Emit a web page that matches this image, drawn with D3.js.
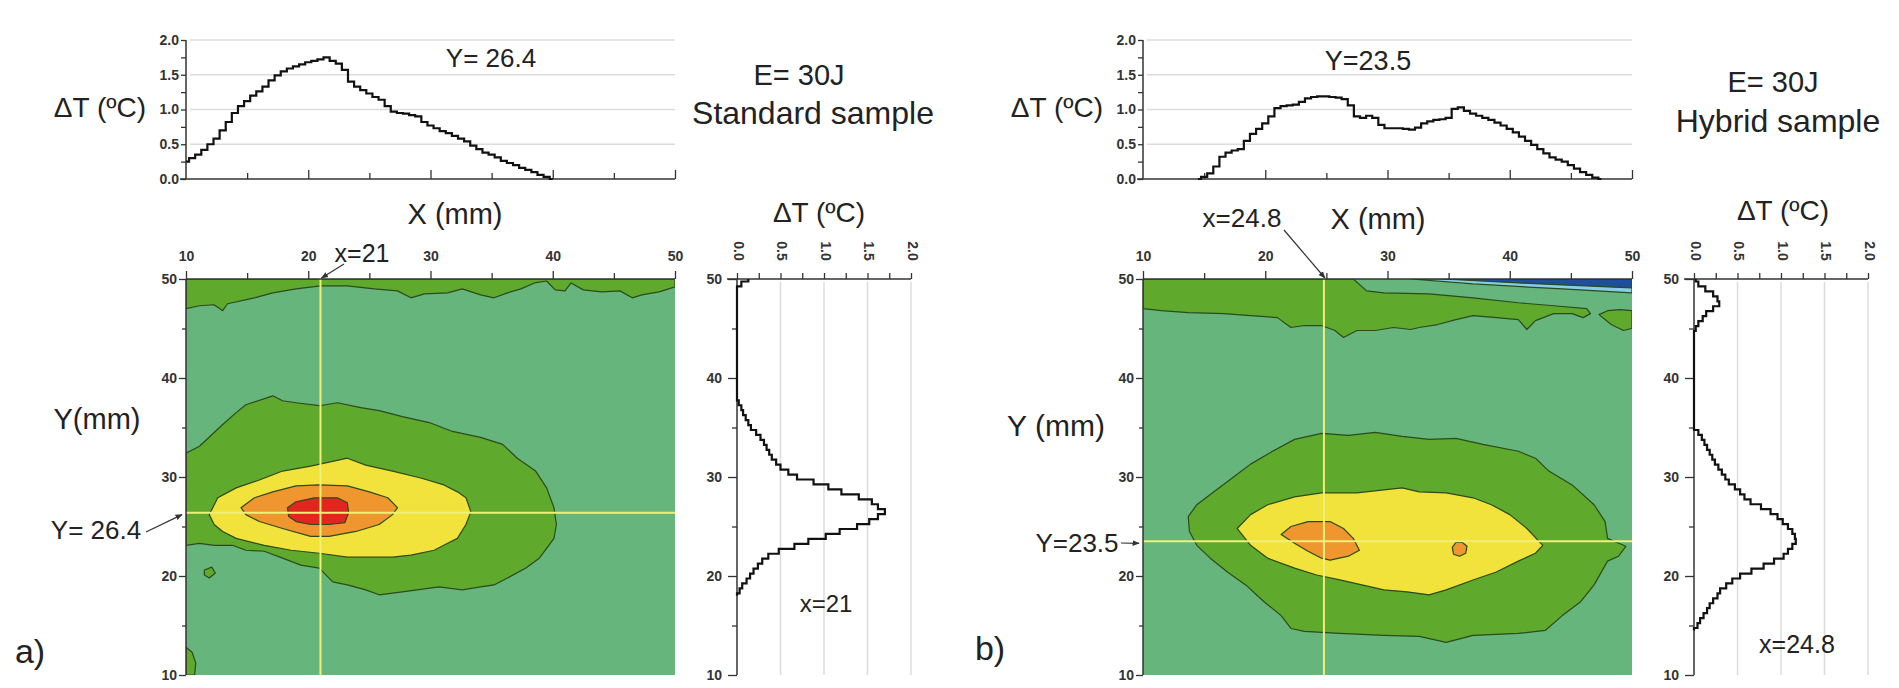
<!DOCTYPE html>
<html>
<head>
<meta charset="utf-8">
<script src="https://cdn.jsdelivr.net/npm/d3@7"></script>
<style>
  body { margin: 0; background: #fff; }
  svg text { font-family: "Liberation Sans", Arial, sans-serif; fill: #222; }
  .tk text { font-family: "Liberation Sans", Arial, sans-serif; font-weight: bold; font-size: 14px; fill: #333; }
  .tk path, .tk line { stroke: #333; stroke-width: 1.3; }
</style>
</head>
<body>
<svg id="chart" width="1899" height="688"></svg>
<script>
// ---------- data (mm / degC) ----------
// horizontal profiles, [x mm, dT]
const topA = [[10,0.25],[10.5,0.30],[11,0.35],[11.5,0.42],[12,0.50],[12.5,0.58],[13,0.70],[13.5,0.82],[14,0.95],[14.5,1.05],[15,1.12],[15.5,1.20],[16,1.26],[16.5,1.33],[17,1.42],[17.5,1.49],[18,1.55],[18.5,1.59],[19,1.62],[19.5,1.65],[20,1.68],[20.5,1.70],[21,1.72],[21.5,1.75],[22,1.70],[22.5,1.66],[23,1.57],[23.5,1.40],[24,1.33],[24.5,1.28],[25,1.23],[25.5,1.18],[26,1.14],[26.5,1.05],[27,0.97],[27.5,0.95],[28,0.94],[28.5,0.92],[29,0.90],[29.5,0.82],[30,0.77],[30.5,0.73],[31,0.69],[31.5,0.66],[32,0.62],[32.5,0.58],[33,0.54],[33.5,0.48],[34,0.43],[34.5,0.38],[35,0.35],[35.5,0.31],[36,0.26],[36.5,0.23],[37,0.20],[37.5,0.16],[38,0.13],[38.5,0.10],[39,0.06],[39.5,0.03],[40,0]];
const topB = [[14.5,0],[15,0.03],[15.5,0.08],[16,0.18],[16.5,0.32],[17,0.38],[17.5,0.41],[18,0.43],[18.5,0.55],[19,0.65],[19.5,0.72],[20,0.80],[20.5,0.90],[21,1.02],[21.5,1.05],[22,1.06],[22.5,1.07],[23,1.11],[23.5,1.16],[24,1.18],[24.5,1.19],[25,1.19],[25.5,1.18],[26,1.17],[26.5,1.15],[27,1.06],[27.5,0.90],[28,0.88],[28.5,0.91],[29,0.88],[29.5,0.78],[30,0.73],[30.5,0.73],[31,0.73],[31.5,0.72],[32,0.71],[32.5,0.74],[33,0.80],[33.5,0.83],[34,0.85],[34.5,0.86],[35,0.88],[35.5,1.01],[36,1.03],[36.5,0.98],[37,0.94],[37.5,0.91],[38,0.88],[38.5,0.85],[39,0.81],[39.5,0.77],[40,0.72],[40.5,0.67],[41,0.61],[41.5,0.55],[42,0.49],[42.5,0.43],[43,0.37],[43.5,0.31],[44,0.28],[44.5,0.25],[45,0.20],[45.5,0.15],[46,0.10],[46.5,0.06],[47,0.02],[47.5,0]];

// vertical profiles, [y mm, dT]
const profA = [[50,0.13],[49.5,0.05],[49,0],[38,0],[37.5,0.02],[37,0.05],[36.5,0.07],[36,0.10],[35.5,0.13],[35,0.16],[34.5,0.22],[34,0.27],[33.5,0.31],[33,0.34],[32.5,0.37],[32,0.40],[31.5,0.45],[31,0.50],[30.5,0.59],[30,0.69],[29.5,0.88],[29,1.05],[28.5,1.20],[28,1.40],[27.5,1.55],[27,1.62],[26.5,1.70],[26,1.62],[25.5,1.52],[25,1.38],[24.5,1.18],[24,1.02],[23.5,0.82],[23,0.66],[22.5,0.48],[22,0.36],[21.5,0.29],[21,0.24],[20.5,0.19],[20,0.15],[19.5,0.11],[19,0.06],[18.5,0.03],[18,0]];
const profB = [[50,0.02],[49.5,0.05],[49,0.13],[48.5,0.22],[48,0.27],[47.5,0.29],[47,0.22],[46.5,0.14],[46,0.10],[45.5,0.05],[45,0.02],[44.5,0],[35,0],[34.5,0.05],[34,0.09],[33.5,0.12],[33,0.15],[32.5,0.18],[32,0.21],[31.5,0.24],[31,0.28],[30.5,0.32],[30,0.36],[29.5,0.40],[29,0.47],[28.5,0.53],[28,0.58],[27.5,0.65],[27,0.77],[26.5,0.88],[26,0.96],[25.5,1.02],[25,1.08],[24.5,1.13],[24,1.16],[23.5,1.17],[23,1.13],[22.5,1.08],[22,1.03],[21.5,0.92],[21,0.80],[20.5,0.66],[20,0.53],[19.5,0.44],[19,0.37],[18.5,0.30],[18,0.27],[17.5,0.22],[17,0.18],[16.5,0.15],[16,0.11],[15.5,0.07],[15,0.04],[14.5,0]];

// contour regions, [x mm, y mm]
const aGreenTop = [[10,50],[10,47.0],[11.1,47.3],[12.3,47.4],[13,46.8],[13.4,47.5],[15.6,48.1],[17.1,48.6],[19,49.0],[21,49.3],[23.2,49.3],[25.4,49.0],[27.3,48.8],[28.4,48.1],[29.5,48.5],[31.4,48.6],[32.6,49.0],[34.1,48.4],[35.2,48.1],[36.3,48.6],[37.4,49.0],[38.5,49.6],[39.5,49.8],[40.2,48.9],[41,48.8],[41.5,49.6],[42.5,48.9],[44,48.7],[45.5,48.8],[46.5,48.1],[47.3,48.4],[48.7,48.7],[50,49.2],[50,50]];
const aGreen = [[10,32.4],[11.1,33.1],[13.0,35.3],[14.1,36.5],[14.9,37.3],[17.1,38.2],[17.9,37.7],[19.0,37.5],[20.9,37.2],[22.4,37.5],[24.3,37.0],[25.8,36.7],[27.7,36.1],[29.9,35.5],[31.8,34.6],[34.1,34.0],[35.9,33.3],[37.1,31.9],[38.6,30.6],[39.5,28.9],[40.1,26.9],[40.3,25.2],[40.1,23.8],[39.5,22.8],[38.9,21.8],[37.8,20.8],[36.3,19.8],[35.2,19.1],[34.1,18.9],[32.6,18.6],[30.7,18.9],[29.5,18.7],[27.7,18.4],[25.8,18.1],[24.7,18.6],[23.2,19.1],[22.0,19.4],[20.9,20.8],[19.4,21.1],[17.9,21.8],[16.4,22.5],[14.9,22.6],[13.8,23.1],[12.3,23.1],[11.1,23.3],[10,23.1]];
const aBlob1 = [[10,10],[10,12.8],[10.5,12.3],[10.8,11.2],[10.7,10]];
const aBlob2 = [[11.5,20.6],[12.1,20.9],[12.4,20.3],[11.9,19.8],[11.5,20.1]];
const aYellow = [[11.9,26.2],[12.6,27.9],[14.1,28.9],[16.0,29.7],[17.9,30.6],[20.2,31.1],[23.2,31.9],[24.7,31.2],[26.9,30.6],[29.2,29.9],[31.1,29.2],[32.2,28.5],[32.9,27.9],[33.3,26.5],[32.9,25.2],[32.2,23.8],[31.4,23.3],[30.3,22.6],[28.4,22.1],[26.9,21.9],[25.0,21.9],[23.2,21.9],[20.9,22.3],[18.6,22.6],[16.4,23.1],[14.1,23.8],[13.0,24.5],[12.3,25.2]];
const aOrange = [[14.5,26.9],[15.6,27.9],[17.1,28.5],[19.0,29.1],[20.9,29.2],[23.2,29.1],[25.0,28.5],[26.5,27.9],[27.3,26.9],[26.9,26.2],[25.8,25.2],[23.9,24.5],[21.7,24.0],[20.2,24.0],[17.9,24.8],[16.0,25.5],[14.9,26.2]];
const aRed = [[18.3,26.9],[19.0,27.5],[20.5,27.9],[22.4,27.9],[23.2,27.4],[23.3,26.4],[23.0,25.4],[21.7,25.2],[20.2,25.2],[19.0,25.5],[18.4,26.0]];

const bGreenTop = [[10,50],[27.2,50],[28.3,48.8],[29.7,48.6],[33.4,48.5],[37.0,48.1],[40.7,47.6],[43.6,47.3],[46.3,47.0],[46.6,46.5],[46.0,46.1],[45.1,46.5],[43.6,46.5],[42.1,45.8],[41.4,44.9],[40.7,45.9],[38.9,46.1],[37.0,46.3],[35.6,45.9],[34.1,45.4],[32.6,45.1],[31.9,44.9],[30.5,45.1],[29.0,44.8],[27.5,44.8],[26.4,44.1],[25.7,44.8],[24.6,45.3],[23.2,45.3],[22.1,45.1],[21.0,46.1],[18.8,46.3],[16.6,46.5],[13.7,46.6],[11.5,46.8],[10,47.0]];
const bBlobRight = [[47.3,46.4],[48,46.8],[49,46.9],[50,46.8],[50,45],[49.3,44.8],[48.3,45.4]];
const bLightBlue = [[31.9,50],[37,49.5],[44.3,49.0],[50,48.6],[50,50]];
const bDarkBlue = [[34.5,50],[40.7,49.6],[44.3,49.4],[50,49.1],[50,50]];
const bGreen = [[13.7,26.0],[14.4,27.2],[15.8,28.5],[17.3,29.9],[18.8,31.3],[20.6,32.6],[22.4,33.8],[24.6,34.4],[26.8,34.2],[29.0,34.5],[31.2,34.1],[33.4,33.8],[35.6,33.9],[37.8,33.3],[40.7,32.6],[42.1,31.9],[43.2,30.6],[45.1,29.2],[46.9,27.2],[47.8,25.5],[48.0,23.8],[49.5,23.0],[48.9,22.0],[48.0,21.5],[46.9,19.1],[45.8,17.4],[44.3,16.0],[42.9,14.5],[40.7,14.2],[37.0,14.0],[34.8,13.3],[32.6,13.9],[29.7,14.0],[26.1,14.2],[23.2,14.4],[22.1,14.7],[21.3,16.0],[19.9,17.4],[18.4,19.1],[16.9,20.4],[15.5,21.8],[14.4,23.1],[13.8,24.5]];
const bYellow = [[17.7,24.8],[18.8,26.2],[20.2,27.2],[22.4,28.0],[24.6,28.4],[27.5,28.4],[29.7,28.7],[31.2,28.9],[32.6,28.5],[34.8,28.4],[37.0,27.9],[38.5,27.2],[40.0,26.2],[41.4,24.8],[42.7,23.1],[42.1,22.3],[40.7,21.5],[38.9,20.4],[37.0,19.6],[34.8,18.6],[33.4,18.1],[31.6,18.4],[29.7,18.6],[27.9,19.1],[26.1,19.6],[24.2,20.1],[22.4,20.8],[20.2,21.8],[18.8,23.1]];
const bOrange1 = [[21.3,24.2],[22.1,25.0],[23.5,25.5],[25.3,25.5],[26.4,24.8],[27.2,23.8],[27.7,22.6],[26.8,22.0],[25.3,21.6],[24.6,21.8],[23.5,22.5],[22.4,23.3]];
const bOrange2 = [[35.3,22.9],[35.6,23.4],[36.1,23.4],[36.5,23.0],[36.4,22.3],[35.9,22.0],[35.4,22.2]];

const xTicksMap = [10, 20, 30, 40, 50];
const yTicksMap = [10, 20, 30, 40, 50];
const dTTicks = [0, 0.5, 1.0, 1.5, 2.0];

const colors = { bg: '#66b57d', green: '#5fa92c', yellow: '#f1e23c', orange: '#f0962f', red: '#e1261f', lblue: '#86cde6', dblue: '#1d4f9c', line: '#2c4a1c', cross: '#eef07a' };

const svg = d3.select('#chart');

function addAxis(g, axis) {
    g.attr('class', 'tk').call(axis);
    g.select('.domain').remove();
    return g;
}

function drawPanel(p) {
    const off = p.off;
    const x = d3.scaleLinear([10, 50], [186 + off, 675 + off]);
    const yTop = d3.scaleLinear([0, 2], [179, 40]);
    const yMap = d3.scaleLinear([10, 50], [675, 279]);
    const xProf = d3.scaleLinear([0, 2], [737 + off, 911 + off]);
    const g = svg.append('g');

    // ----- top profile chart -----
    g.selectAll('.gridT').data(dTTicks.slice(1)).enter().append('line')
        .attr('x1', x(10) + 4).attr('x2', x(50))
        .attr('y1', d => yTop(d)).attr('y2', d => yTop(d))
        .attr('stroke', '#dcdcdc').attr('stroke-width', 1.5);
    g.append('line').attr('x1', x(10)).attr('x2', x(10)).attr('y1', yTop(0)).attr('y2', yTop(2))
        .attr('stroke', '#333').attr('stroke-width', 1.5);
    g.append('line').attr('x1', x(10) - 6).attr('x2', x(50)).attr('y1', yTop(0)).attr('y2', yTop(0))
        .attr('stroke', '#333').attr('stroke-width', 1.5);
    addAxis(g.append('g').attr('transform', `translate(${x(10)},0)`),
        d3.axisLeft(yTop).tickValues(d3.range(0, 2.01, 0.25)).tickSize(5).tickPadding(2)
            .tickFormat(d => (d * 2) % 1 === 0 ? d3.format('.1f')(d) : ''));
    addAxis(g.append('g').attr('transform', `translate(0,${yTop(0)})`),
        d3.axisBottom(x).tickValues([20, 30, 40, 50]).tickSize(-9).tickFormat(''));
    addAxis(g.append('g').attr('transform', `translate(0,${yTop(0)})`),
        d3.axisBottom(x).tickValues([15, 25, 35, 45]).tickSize(-6).tickFormat(''));
    g.append('path').datum(p.top)
        .attr('fill', 'none').attr('stroke', '#111').attr('stroke-width', 2.2)
        .attr('d', d3.line().x(d => x(d[0])).y(d => yTop(d[1])).curve(d3.curveStep));

    // ----- contour map -----
    const clipId = 'clip' + p.name;
    g.append('clipPath').attr('id', clipId).append('rect')
        .attr('x', x(10)).attr('y', yMap(50)).attr('width', x(50) - x(10)).attr('height', yMap(10) - yMap(50));
    const m = g.append('g').attr('clip-path', `url(#${clipId})`);
    m.append('rect').attr('x', x(10)).attr('y', yMap(50)).attr('width', x(50) - x(10)).attr('height', yMap(10) - yMap(50))
        .attr('fill', colors.bg);
    const poly = d3.line().x(d => x(d[0])).y(d => yMap(d[1])).curve(d3.curveLinearClosed);
    p.regions.forEach(r => {
        m.append('path').datum(r.pts).attr('d', poly)
            .attr('fill', colors[r.c]).attr('stroke', colors.line).attr('stroke-width', 1.2)
            .attr('stroke-linejoin', 'round');
    });
    // cross-hair lines
    m.append('line').attr('x1', x(p.cx)).attr('x2', x(p.cx)).attr('y1', yMap(50)).attr('y2', yMap(10))
        .attr('stroke', colors.cross).attr('stroke-width', 2);
    m.append('line').attr('x1', x(10)).attr('x2', x(50)).attr('y1', yMap(p.cy)).attr('y2', yMap(p.cy))
        .attr('stroke', colors.cross).attr('stroke-width', 2);

    g.append('line').attr('x1', x(10)).attr('x2', x(50)).attr('y1', yMap(50)).attr('y2', yMap(50))
        .attr('stroke', '#333').attr('stroke-width', 1.5);
    g.append('line').attr('x1', x(10)).attr('x2', x(10)).attr('y1', yMap(50)).attr('y2', yMap(10))
        .attr('stroke', '#333').attr('stroke-width', 1.5);
    addAxis(g.append('g').attr('transform', `translate(0,${yMap(50)})`),
        d3.axisTop(x).tickValues(xTicksMap).tickSize(8).tickPadding(10));
    addAxis(g.append('g').attr('transform', `translate(0,${yMap(50)})`),
        d3.axisTop(x).tickValues([15, 25, 35, 45]).tickSize(6).tickFormat(''));
    addAxis(g.append('g').attr('transform', `translate(${x(10)},0)`),
        d3.axisLeft(yMap).tickValues(yTicksMap).tickSize(7).tickPadding(2));
    addAxis(g.append('g').attr('transform', `translate(${x(10)},0)`),
        d3.axisLeft(yMap).tickValues([15, 25, 35, 45]).tickSize(4).tickFormat(''));

    // ----- side (vertical) profile -----
    g.selectAll('.gridP').data(dTTicks.slice(1)).enter().append('line')
        .attr('x1', d => xProf(d)).attr('x2', d => xProf(d))
        .attr('y1', yMap(50) + 3).attr('y2', yMap(10))
        .attr('stroke', '#dcdcdc').attr('stroke-width', 1.5);
    g.append('line').attr('x1', xProf(0) - 10).attr('x2', xProf(2)).attr('y1', yMap(50)).attr('y2', yMap(50))
        .attr('stroke', '#333').attr('stroke-width', 1.5);
    g.append('line').attr('x1', xProf(0)).attr('x2', xProf(0)).attr('y1', yMap(50)).attr('y2', yMap(10))
        .attr('stroke', '#333').attr('stroke-width', 1.5);
    const ta = addAxis(g.append('g').attr('transform', `translate(0,${yMap(50)})`),
        d3.axisTop(xProf).tickValues(d3.range(0, 2.01, 0.25)).tickSize(6)
            .tickFormat(d => (d * 2) % 1 === 0 ? d3.format('.1f')(d) : ''));
    ta.selectAll('text').attr('text-anchor', 'middle').attr('dy', null).attr('y', null)
        .attr('transform', 'translate(0,-28) rotate(90)').attr('dominant-baseline', 'middle');
    addAxis(g.append('g').attr('transform', `translate(${xProf(0)},0)`),
        d3.axisLeft(yMap).tickValues(yTicksMap).tickSize(9).tickPadding(6));
    addAxis(g.append('g').attr('transform', `translate(${xProf(0)},0)`),
        d3.axisLeft(yMap).tickValues([15, 25, 35, 45]).tickSize(5).tickFormat(''));
    // swap axes so the steps run along y
    g.append('g').attr('transform', 'matrix(0,1,1,0,0,0)')
        .append('path').datum(p.side)
        .attr('fill', 'none').attr('stroke', '#111').attr('stroke-width', 2.2)
        .attr('d', d3.line().x(d => yMap(d[0])).y(d => xProf(d[1])).curve(d3.curveStep));

    // ----- labels -----
    const t = (txt, tx, ty, size, anchor) => g.append('text').attr('x', tx).attr('y', ty)
        .attr('font-size', size).attr('text-anchor', anchor || 'middle').text(txt);
    p.texts.forEach(d => t(d[0], d[1] + off, d[2], d[3], d[4]));

    // arrows for the cross-hair labels
    const arrow = (x1, y1, x2, y2) => g.append('line').attr('x1', x1).attr('y1', y1).attr('x2', x2).attr('y2', y2)
        .attr('stroke', '#333').attr('stroke-width', 1.2).attr('marker-end', 'url(#arr)');
    arrow(p.arrX[0] + off, p.arrX[1], x(p.cx) + 1, yMap(50) - 1);
    arrow(p.arrY[0] + off, p.arrY[1], x(10) - 4, yMap(p.cy) + 2);
}

svg.append('defs').append('marker').attr('id', 'arr').attr('viewBox', '0 0 10 10')
    .attr('refX', 9).attr('refY', 5).attr('markerWidth', 6).attr('markerHeight', 6).attr('orient', 'auto')
    .append('path').attr('d', 'M0,1 L10,5 L0,9 z').attr('fill', '#333');

drawPanel({
    name: 'a', off: 0, cx: 21, cy: 26.4, top: topA, side: profA,
    regions: [
        { pts: aGreenTop, c: 'green' }, { pts: aGreen, c: 'green' }, { pts: aBlob1, c: 'green' }, { pts: aBlob2, c: 'green' },
        { pts: aYellow, c: 'yellow' }, { pts: aOrange, c: 'orange' }, { pts: aRed, c: 'red' }
    ],
    texts: [
        ['\u0394T (\u00baC)', 146, 117, 28, 'end'],
        ['Y= 26.4', 491, 67, 26],
        ['E= 30J', 799, 85, 29],
        ['Standard sample', 813, 124, 32],
        ['X (mm)', 455, 224, 29],
        ['\u0394T (\u00baC)', 819, 222, 28],
        ['x=21', 362, 262, 25],
        ['Y(mm)', 97, 429, 29],
        ['Y= 26.4', 96, 539, 26],
        ['a)', 30, 663, 34],
        ['x=21', 826, 612, 24]
    ],
    arrX: [344, 264], arrY: [146, 532]
});

drawPanel({
    name: 'b', off: 957, cx: 24.8, cy: 23.5, top: topB, side: profB,
    regions: [
        { pts: bGreenTop, c: 'green' }, { pts: bBlobRight, c: 'green' },
        { pts: bLightBlue, c: 'lblue' }, { pts: bDarkBlue, c: 'dblue' },
        { pts: bGreen, c: 'green' }, { pts: bYellow, c: 'yellow' },
        { pts: bOrange1, c: 'orange' }, { pts: bOrange2, c: 'orange' }
    ],
    texts: [
        ['\u0394T (\u00baC)', 146, 117, 28, 'end'],
        ['Y=23.5', 411, 70, 27],
        ['E= 30J', 816, 92, 29],
        ['Hybrid sample', 821, 132, 32],
        ['X (mm)', 421, 229, 29],
        ['\u0394T (\u00baC)', 826, 220, 28],
        ['x=24.8', 285, 227, 26],
        ['Y (mm)', 99, 436, 30],
        ['Y=23.5', 120, 552, 26],
        ['b)', 33, 660, 34],
        ['x=24.8', 840, 653, 25]
    ],
    arrX: [327, 230], arrY: [164, 543]
});
</script>
</body>
</html>
